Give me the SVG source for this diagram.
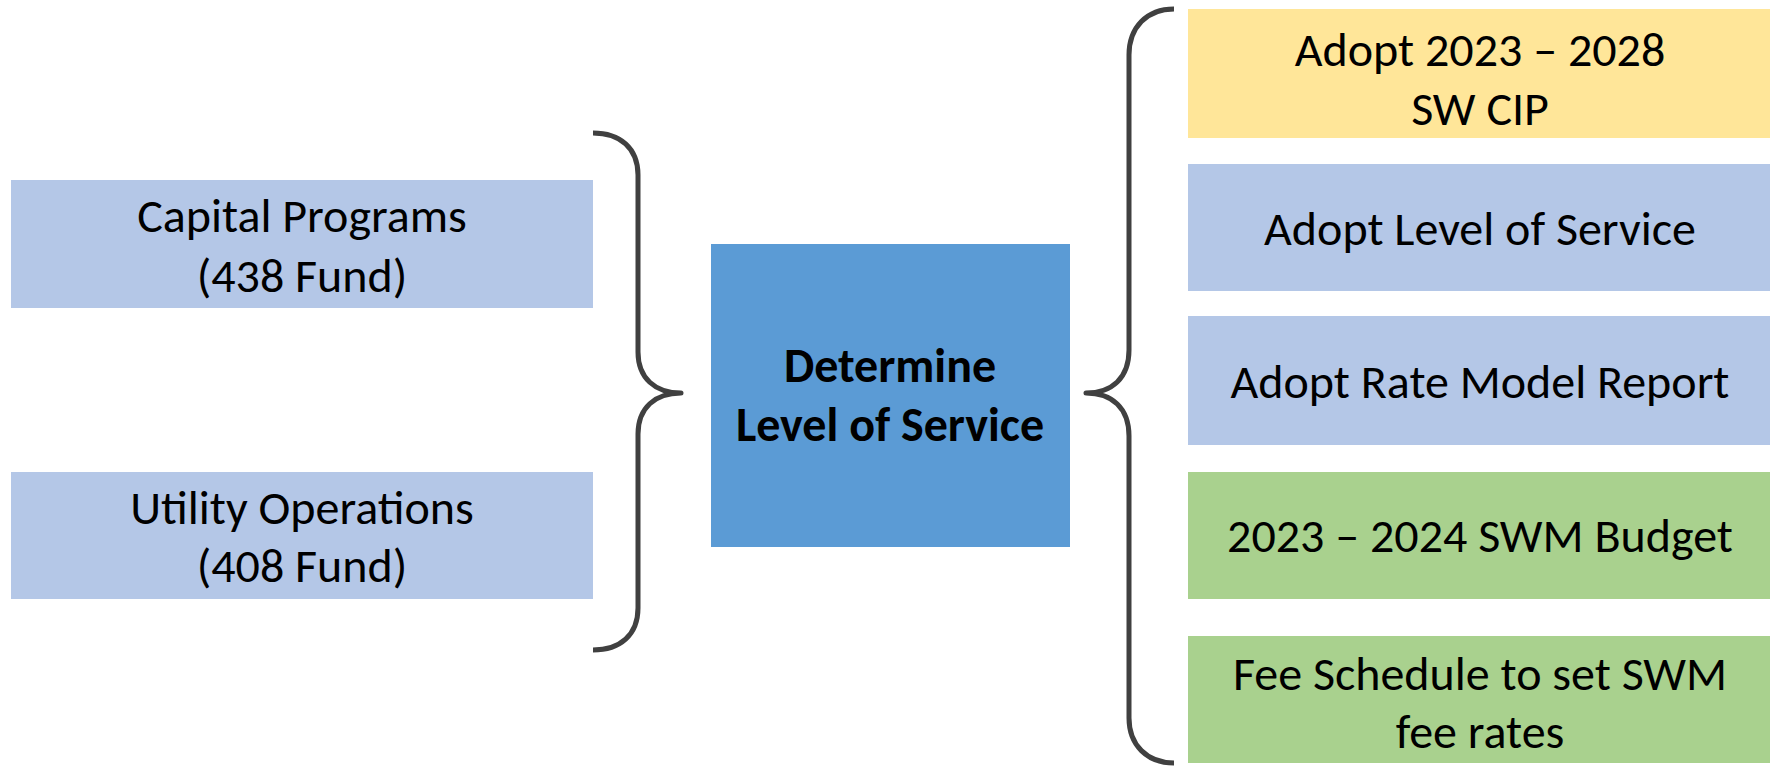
<svg xmlns="http://www.w3.org/2000/svg" width="1770" height="768" viewBox="0 0 1770 768">
<style>
.t{font-family:Carlito,Calibri,Lato,"Liberation Sans",sans-serif;font-size:48px;fill:#000;text-anchor:middle}
.b{font-weight:bold}
.blue{fill:#B4C7E7}
.mid{fill:#5B9BD5}
.yel{fill:#FFE699}
.grn{fill:#A9D18E}
.brace{fill:none;stroke:#404040;stroke-width:5;stroke-linejoin:round}
</style>
<rect width="1770" height="768" fill="#fff"/>
<g id="connectors">
<path class="brace" d="M593,133 C620,133 638,148 638,175 L638,352 C638,378 655,393 681,393 C655,393 638,408 638,434 L638,608 C638,635 620,650 593,650"/>
<path class="brace" d="M1174,9 C1147,9 1129,27 1129,55 L1129,350 C1129,378 1112,393 1086,393 C1112,393 1129,408 1129,436 L1129,718 C1129,745 1147,763 1174,763"/>
</g>
<g id="capital">
<rect class="blue" x="11" y="180" width="582" height="128"/>
<text class="t" x="302" y="232">Capital Programs</text>
<text class="t" x="302" y="292">(438 Fund)</text>
</g>
<g id="utility">
<rect class="blue" x="11" y="472" width="582" height="127"/>
<text class="t" x="302" y="524">Utility Operations</text>
<text class="t" x="302" y="582">(408 Fund)</text>
</g>
<g id="determine">
<rect class="mid" x="711" y="244" width="359" height="303"/>
<text class="t b" x="890" y="382">Determine</text>
<text class="t b" x="890" y="441">Level of Service</text>
</g>
<g id="cip">
<rect class="yel" x="1188" y="9" width="582" height="129"/>
<text class="t" x="1480" y="66">Adopt 2023 – 2028</text>
<text class="t" x="1480" y="125">SW CIP</text>
</g>
<g id="los">
<rect class="blue" x="1188" y="164" width="582" height="127"/>
<text class="t" x="1480" y="245">Adopt Level of Service</text>
</g>
<g id="rate">
<rect class="blue" x="1188" y="316" width="582" height="129"/>
<text class="t" x="1480" y="398">Adopt Rate Model Report</text>
</g>
<g id="budget">
<rect class="grn" x="1188" y="472" width="582" height="127"/>
<text class="t" x="1480" y="552">2023 – 2024 SWM Budget</text>
</g>
<g id="fee">
<rect class="grn" x="1188" y="636" width="582" height="127"/>
<text class="t" x="1480" y="690">Fee Schedule to set SWM</text>
<text class="t" x="1480" y="748">fee rates</text>
</g>
</svg>
